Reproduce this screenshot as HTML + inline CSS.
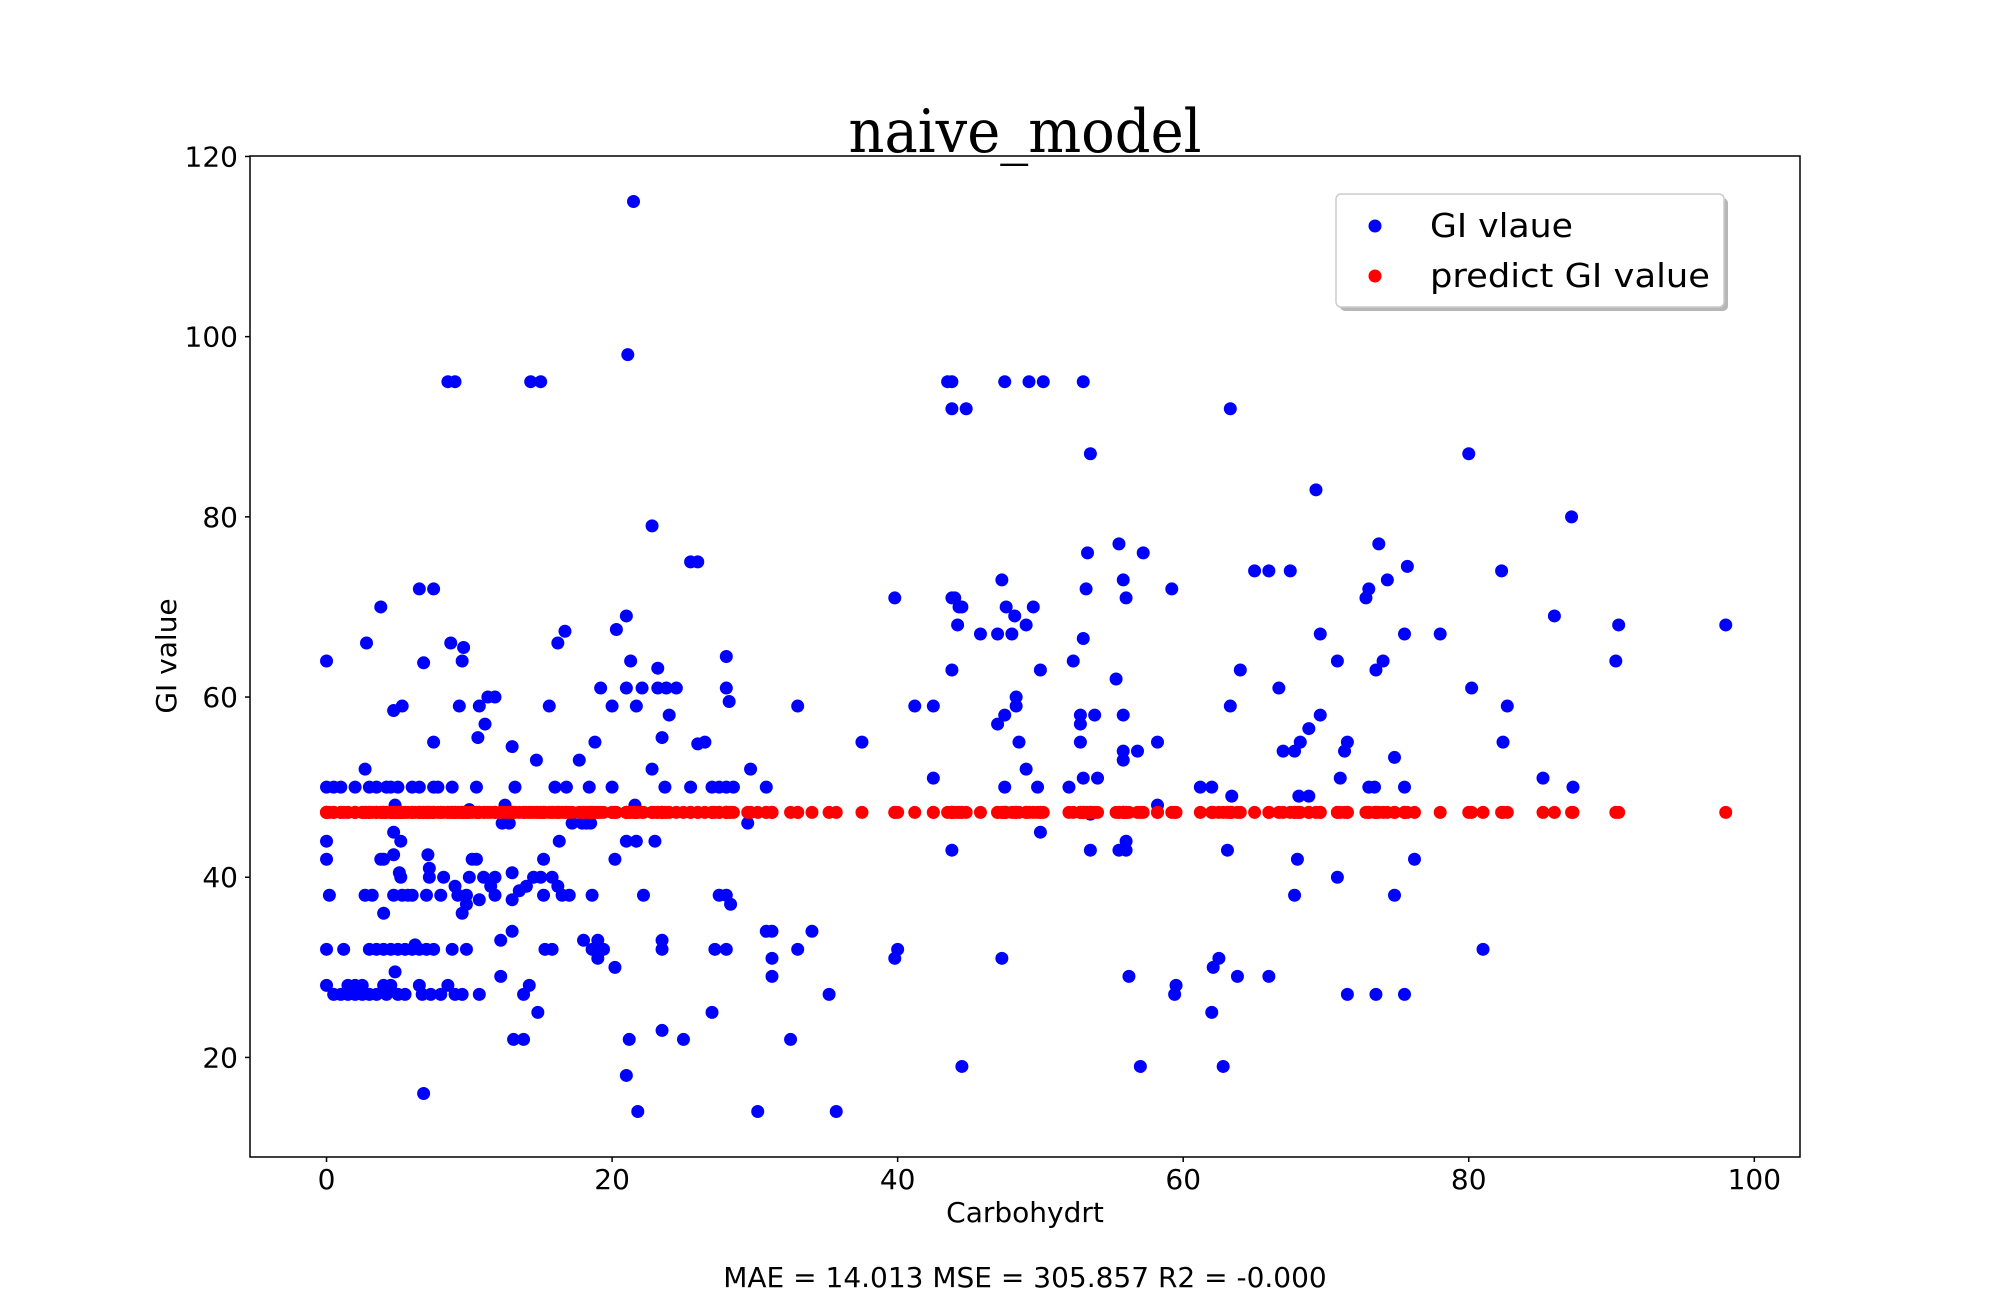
<!DOCTYPE html>
<html><head><meta charset="utf-8"><style>
html,body{margin:0;padding:0;background:#fff;}
svg text{font-family:"DejaVu Sans","Liberation Sans",sans-serif;}
</style></head><body>
<svg id="chart" width="2000" height="1300" xmlns="http://www.w3.org/2000/svg">
<rect width="2000" height="1300" fill="#fff"/>
<text x="1025" y="152" text-anchor="middle" font-size="60" style="font-family:'DejaVu Serif','Liberation Serif',serif" textLength="353" lengthAdjust="spacingAndGlyphs">naive_model</text>
<g id="marks"></g>
<rect x="250" y="156" width="1550" height="1001" fill="none" stroke="#000" stroke-width="1.5"/>
<g id="axes"></g>
<text x="1025" y="1222" text-anchor="middle" font-size="28">Carbohydrt</text>
<text transform="translate(176,656) rotate(-90)" text-anchor="middle" font-size="28">GI value</text>
<text x="1025" y="1287" text-anchor="middle" font-size="28">MAE = 14.013 MSE = 305.857 R2 = -0.000</text>
<g>
<rect x="1340" y="198" width="388" height="113" rx="5" fill="#999" opacity="0.7"/>
<rect x="1336" y="194" width="388" height="113" rx="5" fill="#fff" stroke="#ccc" stroke-width="1.5"/>
<circle cx="1375" cy="226" r="6.5" fill="#0000ff"/>
<text x="1430" y="237" font-size="33" textLength="143" lengthAdjust="spacingAndGlyphs">GI vlaue</text>
<circle cx="1375" cy="276" r="6.5" fill="#ff0000"/>
<text x="1430" y="287" font-size="33" textLength="280" lengthAdjust="spacingAndGlyphs">predict GI value</text>
</g>
</svg>
<script>
const carbX = [0,0,0,0,0,0,0.2,0.5,0.5,1,1,1.2,1.5,1.5,2,2,2,2.5,2.5,2.7,2.7,2.8,3,3,3,3.2,3.5,3.5,3.5,3.8,3.8,4,4,4,4,4.2,4.2,4.5,4.5,4.5,4.7,4.7,4.7,4.7,4.8,4.8,5,5,5,5.1,5.2,5.2,5.3,5.3,5.5,5.5,5.7,6,6,6,6.2,6.5,6.5,6.5,6.5,6.7,6.8,6.8,7,7,7.1,7.2,7.2,7.3,7.5,7.5,7.5,7.5,7.8,8,8,8.2,8.5,8.5,8.7,8.8,8.8,9,9,9,9.2,9.3,9.5,9.5,9.5,9.6,9.8,9.8,9.8,10,10,10.2,10.5,10.5,10.6,10.7,10.7,10.7,11,11.1,11.3,11.5,11.8,11.8,11.8,12.2,12.2,12.3,12.5,12.8,13,13,13,13,13.1,13.2,13.5,13.8,13.8,14,14.2,14.3,14.5,14.7,14.8,15,15,15.2,15.2,15.3,15.6,15.8,15.8,16,16.2,16.2,16.3,16.5,16.7,16.8,17,17.2,17.7,17.9,18,18.2,18.4,18.5,18.6,18.6,18.8,19,19,19.2,19.4,20,20,20.2,20.2,20.3,21,21,21,21,21.1,21.2,21.3,21.5,21.6,21.7,21.7,21.8,22.1,22.2,22.8,22.8,23,23.2,23.2,23.5,23.5,23.5,23.5,23.7,23.8,24,24.5,25,25.5,25.5,26,26,26.5,27,27,27.2,27.5,27.5,28,28,28,28,28,28.2,28.3,28.5,29.5,29.7,30.2,30.8,30.8,31.2,31.2,31.2,32.5,33,33,34,35.2,35.7,37.5,39.8,39.8,40,41.2,42.5,42.5,43.5,43.8,43.8,43.8,43.8,43.8,44,44.2,44.3,44.5,44.5,44.8,45.8,47,47,47.3,47.3,47.5,47.5,47.5,47.6,48,48.2,48.3,48.3,48.5,49,49,49.2,49.5,49.8,50,50,50.2,52,52.3,52.8,52.8,52.8,53,53,53,53.2,53.3,53.5,53.5,53.5,53.8,54,55.3,55.5,55.5,55.8,55.8,55.8,55.8,56,56,56,56.2,56.8,57,57.2,58.2,58.2,59.2,59.4,59.5,61.2,62,62.1,62,62.5,62.8,63.1,63.3,63.3,63.4,63.8,64,65,66,66,66.7,67,67.5,67.8,67.8,68,68.1,68.2,68.8,68.8,69.3,69.6,69.6,70.8,70.8,71,71.3,71.5,71.5,72.8,73,73,73.4,73.5,73.5,73.7,74,74.3,74.8,74.8,75.5,75.5,75.5,75.7,76.2,78,80,80.2,81,82.3,82.4,82.7,85.2,86,87.2,87.3,90.3,90.5,98];
const giValue = [64,50,44,42,32,28,38,50,27,50,27,32,28,27,50,28,27,28,27,52,38,66,50,32,27,38,50,32,27,70,42,42,36,32,28,50,27,50,32,28,45,42.5,38,58.5,48,29.5,50,32,27,40.5,40,44,59,38,32,27,38,50,38,32,32.5,72,50,32,28,27,16,63.8,38,32,42.5,41,40,27,72,55,50,32,50,38,27,40,95,28,66,50,32,95,39,27,38,59,36,64,27,65.5,38,37,32,40,47.5,42,50,42,55.5,37.5,59,27,40,57,60,39,60,40,38,29,33,46,48,46,54.5,40.5,37.5,34,22,50,38.5,27,22,39,28,95,40,53,25,95,40,42,38,32,59,40,32,50,66,39,44,38,67.3,50,38,46,53,46,33,46,50,46,32,38,55,33,31,61,32,59,50,30,42,67.5,69,61,44,18,98,22,64,115,48,44,59,14,61,38,79,52,44,63.2,61,55.5,33,32,23,50,61,58,61,22,75,50,75,54.8,55,50,25,32,38,50,64.5,61,50,38,32,59.5,37,50,46,52,14,50,34,34,31,29,22,59,32,34,27,14,55,31,71,32,59,59,51,95,95,92,71,63,43,71,68,70,70,19,92,67,67,57,73,31,95,58,50,70,67,69,60,59,55,52,68,95,70,50,63,45,95,50,64,58,57,55,95,51,66.5,72,76,87,47,43,58,51,62,77,43,58,54,73,53,71,44,43,29,54,19,76,55,48,72,27,28,50,50,30,25,31,19,43,59,92,49,29,63,74,74,29,61,54,74,54,38,42,49,55,56.5,49,83,58,67,64,40,51,54,55,27,71,72,50,50,63,27,77,64,73,53.3,38,67,50,27,74.5,42,67,87,61,32,74,55,59,51,69,80,50,64,68,68];
const predictedGI = [47.2];
const xTicks = [0,20,40,60,80,100];
const yTicks = [20,40,60,80,100,120];
const xDomain = [-5.36,103.2], yDomain = [8.95,120.05];
const L=250,R=1800,T=156,B=1157;
const sx = v => L + (v - xDomain[0]) / (xDomain[1]-xDomain[0]) * (R-L);
const sy = v => B - (v - yDomain[0]) / (yDomain[1]-yDomain[0]) * (B-T);
const NS='http://www.w3.org/2000/svg';
const marks=document.getElementById('marks'), axes=document.getElementById('axes');
carbX.forEach((x,i)=>{
  const c=document.createElementNS(NS,'circle');
  c.setAttribute('cx',sx(x));c.setAttribute('cy',sy(giValue[i]));c.setAttribute('r',6.5);c.setAttribute('fill','#0000ff');
  
  
  marks.appendChild(c);
});
carbX.forEach((x,i)=>{
  const c=document.createElementNS(NS,'circle');
  c.setAttribute('cx',sx(x));c.setAttribute('cy',sy(predictedGI[0]));c.setAttribute('r',6.5);c.setAttribute('fill','#ff0000');
  
  
  marks.appendChild(c);
});
xTicks.forEach(t=>{
  const l=document.createElementNS(NS,'line');
  l.setAttribute('x1',sx(t));l.setAttribute('x2',sx(t));l.setAttribute('y1',B);l.setAttribute('y2',B+5);l.setAttribute('stroke','#000');l.setAttribute('stroke-width',1.5);
  
  
  axes.appendChild(l);
  const tx=document.createElementNS(NS,'text');
  tx.setAttribute('x',sx(t));tx.setAttribute('y',1189);tx.setAttribute('text-anchor','middle');tx.setAttribute('font-size',28);
  tx.textContent=t;
  
  
  axes.appendChild(tx);
});
yTicks.forEach(t=>{
  const l=document.createElementNS(NS,'line');
  l.setAttribute('x1',L-5);l.setAttribute('x2',L);l.setAttribute('y1',sy(t));l.setAttribute('y2',sy(t));l.setAttribute('stroke','#000');l.setAttribute('stroke-width',1.5);
  
  
  axes.appendChild(l);
  const tx=document.createElementNS(NS,'text');
  tx.setAttribute('x',L-12);tx.setAttribute('y',sy(t)+10);tx.setAttribute('text-anchor','end');tx.setAttribute('font-size',28);
  tx.textContent=t;
  
  
  axes.appendChild(tx);
});
</script>
</body></html>
